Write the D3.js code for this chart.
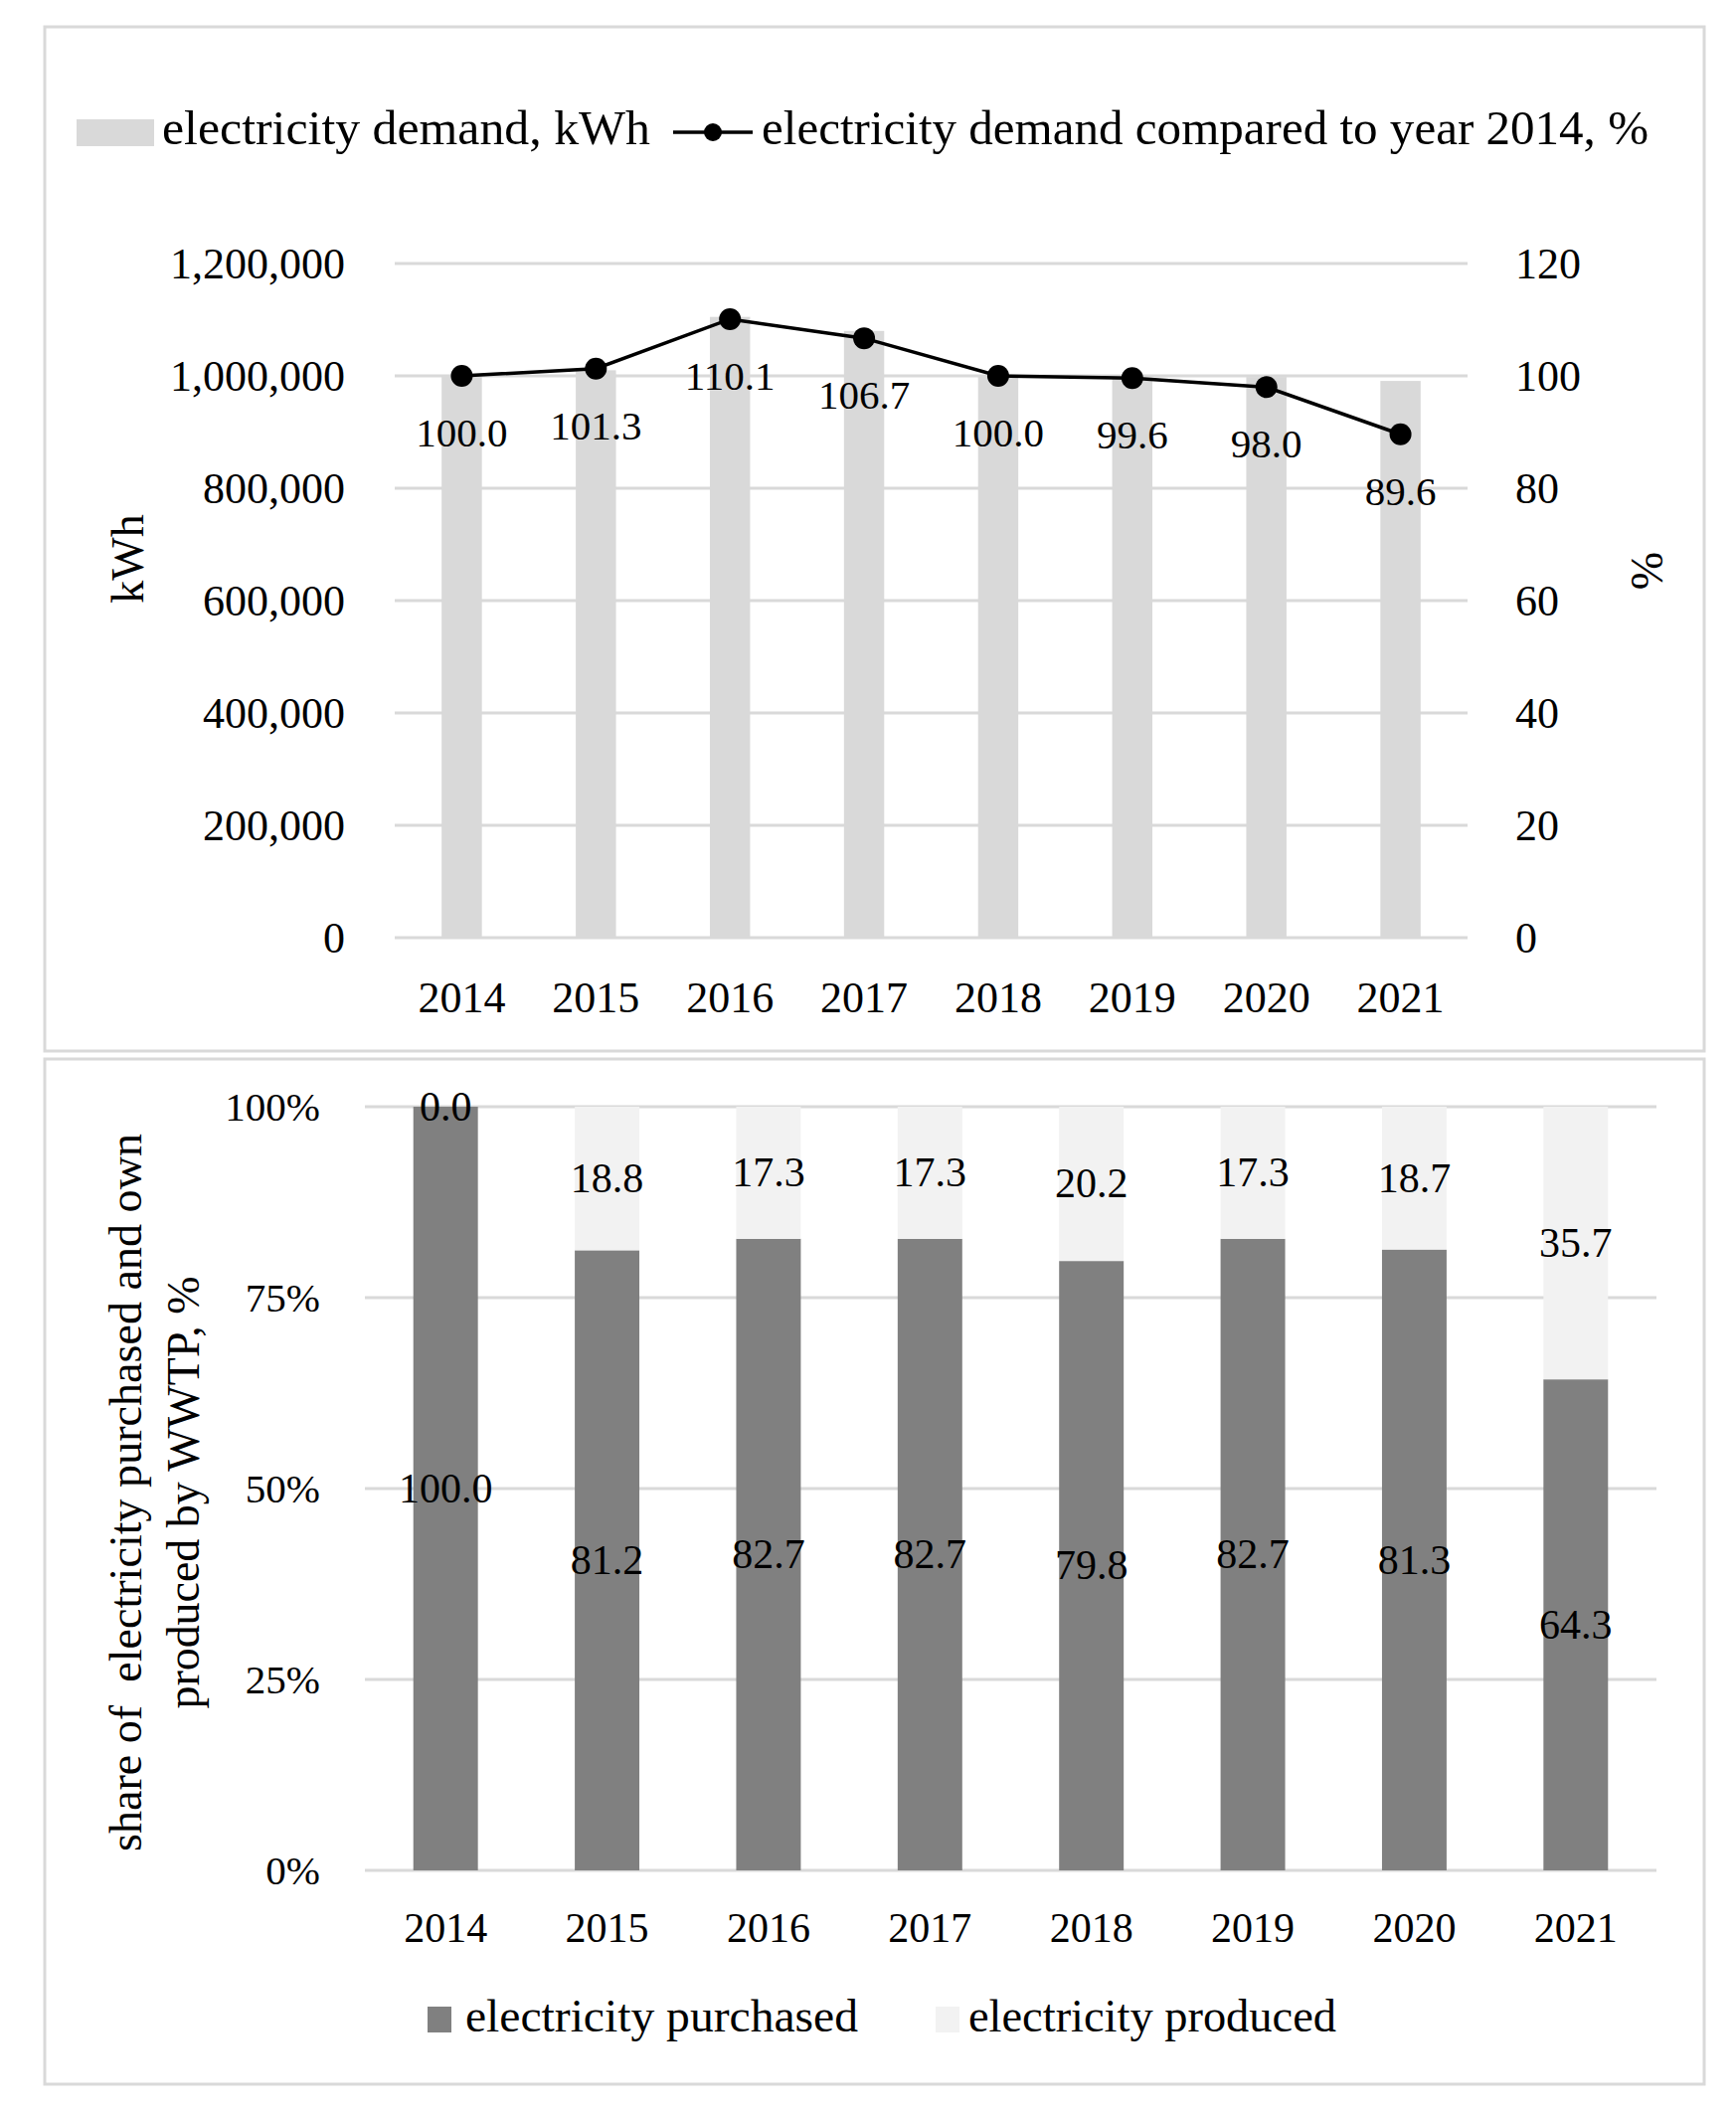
<!DOCTYPE html>
<html>
<head>
<meta charset="utf-8">
<script src="https://cdn.jsdelivr.net/npm/d3@7"></script>
<style>
  html, body { margin: 0; padding: 0; background: #fff; }
  svg text { font-family: "Liberation Serif", "DejaVu Serif", serif; fill: #000; }
</style>
</head>
<body>
<div id="chart"></div>
<script>
// ---- data ----
const years = ["2014", "2015", "2016", "2017", "2018", "2019", "2020", "2021"];
const demandKWh = [1000000, 1010000, 1105000, 1080000, 1000000, 997000, 998000, 991000];
const demandPct = [100.0, 101.3, 110.1, 106.7, 100.0, 99.6, 98.0, 89.6];
const purchasedPct = [100.0, 81.2, 82.7, 82.7, 79.8, 82.7, 81.3, 64.3];
const producedPct = [0.0, 18.8, 17.3, 17.3, 20.2, 17.3, 18.7, 35.7];
const kwhTicks = [0, 200000, 400000, 600000, 800000, 1000000, 1200000];
const pctTicks = [0, 20, 40, 60, 80, 100, 120];
const shareTicks = [0, 0.25, 0.5, 0.75, 1];

const W = 1746, H = 2126;
const grid = "#d9d9d9";

var svg = d3.select("#chart")
    .append("svg")
    .attr("width", W)
    .attr("height", H);

// panel frames
svg.append("rect").attr("x", 45).attr("y", 27).attr("width", 1669).attr("height", 1030)
    .attr("fill", "#fff").attr("stroke", grid).attr("stroke-width", 3);
svg.append("rect").attr("x", 45).attr("y", 1065).attr("width", 1669).attr("height", 1031)
    .attr("fill", "#fff").attr("stroke", grid).attr("stroke-width", 3);

// ================= top chart =================
var x1 = d3.scaleBand().domain(years).range([397, 1476])
    .paddingInner(0.7).paddingOuter(0.35);
var yK = d3.scaleLinear().domain([0, 1200000]).range([943, 265]);
var yP = d3.scaleLinear().domain([0, 120]).range([943, 265]);
var cx1 = d => x1(d) + x1.bandwidth() / 2;

// gridlines
svg.append("g").selectAll("line").data(kwhTicks).enter().append("line")
    .attr("x1", 397).attr("x2", 1476)
    .attr("y1", d => yK(d)).attr("y2", d => yK(d))
    .attr("stroke", grid).attr("stroke-width", 3);

// bars
svg.append("g").selectAll("rect").data(years).enter().append("rect")
    .attr("x", d => x1(d))
    .attr("width", x1.bandwidth())
    .attr("y", (d, i) => yK(demandKWh[i]))
    .attr("height", (d, i) => yK(0) - yK(demandKWh[i]))
    .attr("fill", "#d9d9d9");

// axes
var axL = svg.append("g").attr("transform", "translate(397,0)")
    .call(d3.axisLeft(yK).tickValues(kwhTicks).tickFormat(d3.format(",")).tickSize(0).tickPadding(50));
axL.select(".domain").remove();
axL.selectAll("text").style("font-size", "44px").attr("fill", "#000");

var axR = svg.append("g").attr("transform", "translate(1476,0)")
    .call(d3.axisRight(yP).tickValues(pctTicks).tickSize(0).tickPadding(48));
axR.select(".domain").remove();
axR.selectAll("text").style("font-size", "44px").attr("fill", "#000");

var axB = svg.append("g").attr("transform", "translate(0,943)")
    .call(d3.axisBottom(x1).tickSize(0).tickPadding(44));
axB.select(".domain").remove();
axB.selectAll("text").style("font-size", "44px").attr("fill", "#000");

// line + markers
var line = d3.line().x((d, i) => cx1(years[i])).y(d => yP(d));
svg.append("path").datum(demandPct)
    .attr("d", line).attr("fill", "none")
    .attr("stroke", "#000").attr("stroke-width", 3.5);
svg.append("g").selectAll("circle").data(demandPct).enter().append("circle")
    .attr("cx", (d, i) => cx1(years[i])).attr("cy", d => yP(d))
    .attr("r", 11).attr("fill", "#000");

// labels under markers
svg.append("g").selectAll("text").data(demandPct).enter().append("text")
    .attr("x", (d, i) => cx1(years[i])).attr("y", d => yP(d) + 71)
    .attr("text-anchor", "middle").style("font-size", "41px")
    .text(d => d.toFixed(1));

// axis titles
svg.append("text").attr("transform", "translate(144,562) rotate(-90)")
    .attr("text-anchor", "middle").style("font-size", "46px").text("kWh");
svg.append("text").attr("transform", "translate(1672,574) rotate(-90)")
    .attr("text-anchor", "middle").style("font-size", "46px").text("%");

// legend
svg.append("rect").attr("x", 77).attr("y", 120).attr("width", 78).attr("height", 27).attr("fill", "#d9d9d9");
svg.append("text").attr("x", 163).attr("y", 145).style("font-size", "49px")
    .attr("textLength", 491).attr("lengthAdjust", "spacingAndGlyphs")
    .text("electricity demand, kWh");
svg.append("line").attr("x1", 677).attr("x2", 757).attr("y1", 133).attr("y2", 133)
    .attr("stroke", "#000").attr("stroke-width", 3.5);
svg.append("circle").attr("cx", 717).attr("cy", 133).attr("r", 9).attr("fill", "#000");
svg.append("text").attr("x", 766).attr("y", 145).style("font-size", "49px")
    .attr("textLength", 892).attr("lengthAdjust", "spacingAndGlyphs")
    .text("electricity demand compared to year 2014, %");

// ================= bottom chart =================
var x2 = d3.scaleBand().domain(years).range([367, 1666])
    .paddingInner(0.6).paddingOuter(0.3);
var yS = d3.scaleLinear().domain([0, 1]).range([1881, 1113]);
var cx2 = d => x2(d) + x2.bandwidth() / 2;

svg.append("g").selectAll("line").data(shareTicks).enter().append("line")
    .attr("x1", 367).attr("x2", 1666)
    .attr("y1", d => yS(d)).attr("y2", d => yS(d))
    .attr("stroke", grid).attr("stroke-width", 3);

var rows = years.map((y, i) => ({year: y, purchased: purchasedPct[i] / 100, produced: producedPct[i] / 100}));
var stacked = d3.stack().keys(["purchased", "produced"])(rows);
var fills = {purchased: "#808080", produced: "#f2f2f2"};

svg.append("g").selectAll("g").data(stacked).enter().append("g")
    .attr("fill", d => fills[d.key])
    .selectAll("rect").data(d => d).enter().append("rect")
    .attr("x", d => x2(d.data.year))
    .attr("width", x2.bandwidth())
    .attr("y", d => yS(d[1]))
    .attr("height", d => yS(d[0]) - yS(d[1]));

var axL2 = svg.append("g").attr("transform", "translate(367,0)")
    .call(d3.axisLeft(yS).tickValues(shareTicks).tickFormat(d3.format(".0%")).tickSize(0).tickPadding(45));
axL2.select(".domain").remove();
axL2.selectAll("text").style("font-size", "41px").attr("fill", "#000");

var axB2 = svg.append("g").attr("transform", "translate(0,1881)")
    .call(d3.axisBottom(x2).tickSize(0).tickPadding(42));
axB2.select(".domain").remove();
axB2.selectAll("text").style("font-size", "42px").attr("fill", "#000");

// segment labels
svg.append("g").selectAll("g").data(stacked).enter().append("g")
    .selectAll("text").data(d => d).enter().append("text")
    .attr("x", d => cx2(d.data.year))
    .attr("y", d => yS((d[0] + d[1]) / 2))
    .attr("dy", "0.33em")
    .attr("text-anchor", "middle").style("font-size", "42px")
    .text(d => ((d[1] - d[0]) * 100).toFixed(1));

// y title (two lines)
svg.append("text").attr("transform", "translate(142,1501) rotate(-90)")
    .attr("text-anchor", "middle").style("font-size", "46px")
    .attr("textLength", 722).attr("lengthAdjust", "spacingAndGlyphs")
    .style("white-space", "pre")
    .text("share of  electricity purchased and own");
svg.append("text").attr("transform", "translate(200,1501) rotate(-90)")
    .attr("text-anchor", "middle").style("font-size", "46px")
    .attr("textLength", 435).attr("lengthAdjust", "spacingAndGlyphs")
    .text("produced by WWTP, %");

// legend
svg.append("rect").attr("x", 430).attr("y", 2018).attr("width", 24).attr("height", 26).attr("fill", "#808080");
svg.append("text").attr("x", 468).attr("y", 2043).style("font-size", "47px")
    .attr("textLength", 395).attr("lengthAdjust", "spacingAndGlyphs")
    .text("electricity purchased");
svg.append("rect").attr("x", 941).attr("y", 2018).attr("width", 24).attr("height", 26).attr("fill", "#f2f2f2");
svg.append("text").attr("x", 974).attr("y", 2043).style("font-size", "47px")
    .attr("textLength", 370).attr("lengthAdjust", "spacingAndGlyphs")
    .text("electricity produced");
</script>
</body>
</html>
